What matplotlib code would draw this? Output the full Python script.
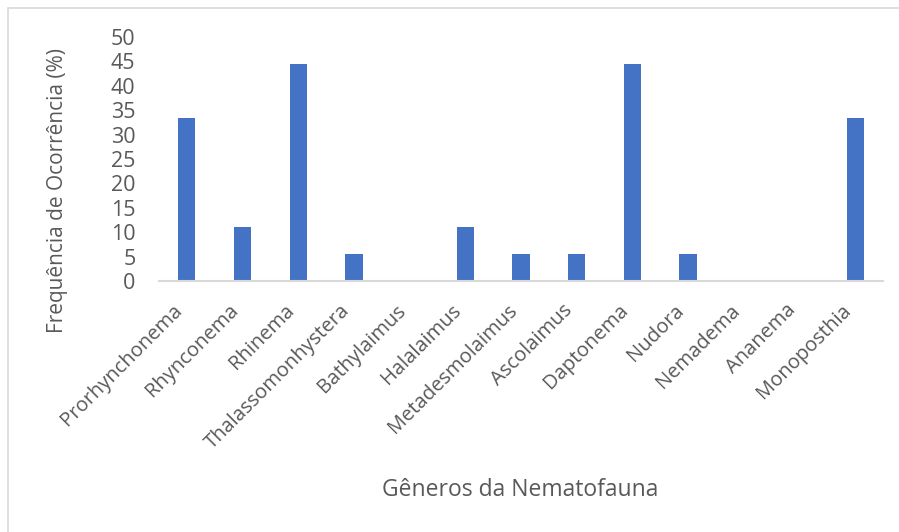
import matplotlib
matplotlib.use("Agg")
import matplotlib.pyplot as plt
from matplotlib.patches import Rectangle
from matplotlib.transforms import ScaledTranslation

generos = ["Prorhynchonema", "Rhynconema", "Rhinema", "Thalassomonhystera",
           "Bathylaimus", "Halalaimus", "Metadesmolaimus", "Ascolaimus",
           "Daptonema", "Nudora", "Nemadema", "Ananema", "Monoposthia"]
frequencia = [33.3, 11.1, 44.4, 5.6, 0, 11.1, 5.6, 5.6, 44.4, 5.6, 0, 0, 33.3]
y_ticks = [0, 5, 10, 15, 20, 25, 30, 35, 40, 45, 50]

W, H = 899, 532
plt.rcParams['font.family'] = ['Open Sans', 'DejaVu Sans']
txt = "#595959"

fig = plt.figure(figsize=(W / 100, H / 100), dpi=100)
fig.patches.append(Rectangle((8 / W, -0.2), 1.2, 1.2 - 8 / H, transform=fig.transFigure,
                             fill=False, edgecolor="#D9D9D9", linewidth=1.2))

left, right, top, bottom = 159, 883, 37, 281
ax = fig.add_axes([left / W, (H - bottom) / H, (right - left) / W, (bottom - top) / H])

x = list(range(len(generos)))
ax.bar(x, frequencia, width=0.31, color="#4472C4", zorder=2)

ax.set_xlim(-0.5, len(generos) - 0.5)
ax.set_ylim(0, 50)
ax.set_yticks(y_ticks)
ax.set_yticklabels([str(v) for v in y_ticks], fontsize=15.5, color=txt)
ax.set_xticks(x)
ax.set_xticklabels(generos, rotation=45, ha="right", va="top",
                   rotation_mode="default", fontsize=14.5, color=txt)
shift = ScaledTranslation(4 / 100, -3 / 100, fig.dpi_scale_trans)
for lbl in ax.get_xticklabels():
    lbl.set_transform(lbl.get_transform() + shift)

for s in ["top", "right", "left"]:
    ax.spines[s].set_visible(False)
ax.spines["bottom"].set_color("#D9D9D9")
ax.spines["bottom"].set_linewidth(1.5)
ax.tick_params(axis="both", length=0)
ax.tick_params(axis="y", pad=17)
ax.tick_params(axis="x", pad=14)

fig.text(520 / W, 1 - 490 / H, "Gêneros da Nematofauna", ha="center", va="center",
         fontsize=16.5, color=txt)
fig.text(57 / W, 1 - 190 / H, "Frequência de Ocorrência (%)", ha="center", va="center",
         rotation=90, fontsize=15, color=txt)

fig.savefig("out.png", dpi=100)
